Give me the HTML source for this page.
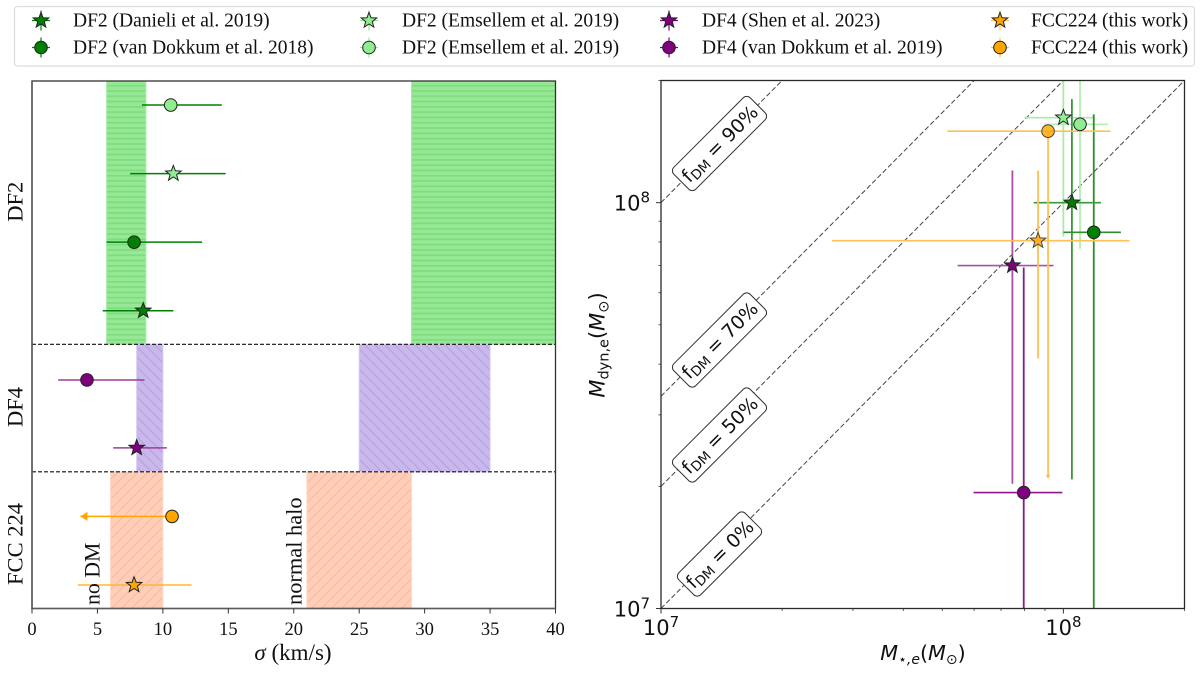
<!DOCTYPE html>
<html lang="en">
<head>
<meta charset="utf-8">
<title>Velocity dispersion and dynamical mass comparison</title>
<style>
html,body{margin:0;padding:0;background:#fff;width:1200px;height:673px;overflow:hidden}
svg{display:block}
.serif{font-family:"Liberation Serif",serif;fill:#111}
.sans{font-family:"DejaVu Sans",sans-serif;fill:#111}
</style>
</head>
<body>
<svg id="chart" xmlns="http://www.w3.org/2000/svg" width="1200" height="673" viewBox="0 0 1200 673">
<defs>
<clipPath id="clip-left"><rect x="32" y="81" width="523.5" height="527.5"/></clipPath>
<clipPath id="clip-right"><rect x="661" y="80.5" width="523.5" height="528"/></clipPath>
<pattern id="hatch-green" patternUnits="userSpaceOnUse" width="8" height="5.3"><rect width="8" height="5.3" fill="#95e995"/><rect y="0" width="8" height="1.7" fill="#80da80"/></pattern>
<pattern id="hatch-purple" patternUnits="userSpaceOnUse" width="10" height="10"><rect width="10" height="10" fill="#c9b8ea"/><path d="M-1 -1L11 11M-1 9L1 11M9 -1L11 1" stroke="#b7a0e0" stroke-width="1.1"/></pattern>
<pattern id="hatch-orange" patternUnits="userSpaceOnUse" width="10" height="10"><rect width="10" height="10" fill="#ffcdb8"/><path d="M-1 11L11 -1M-1 1L1 -1M9 11L11 9" stroke="#f9bba0" stroke-width="1.1"/></pattern>
</defs>
<g id="legend"></g>
<g id="left-panel"></g>
<g id="right-panel"></g>
</svg>
<script>
// ---------- Left panel data ----------
const sigmaBandNames = ['df2-no-dm-band','df2-halo-band','df4-no-dm-band','df4-halo-band','fcc224-no-dm-band','fcc224-halo-band'];
const sigmaBandLow = [5.7, 29, 8, 25, 6, 21];
const sigmaBandHigh = [8.7, 40, 10, 35, 10, 29];
const sigmaBandRowTop = [7.35, 7.35, 3.51, 3.51, 1.65, 1.65];
const sigmaBandRowBottom = [3.51, 3.51, 1.65, 1.65, -0.33, -0.33];
const sigmaBandHatch = ['green','green','purple','purple','orange','orange'];
const separatorRows = [3.51, 1.65];
const sigmaTicks = [0, 5, 10, 15, 20, 25, 30, 35, 40];

const seriesNames = ['df2-emsellem-circle','df2-emsellem-star','df2-van-dokkum','df2-danieli','df4-van-dokkum','df4-shen','fcc224-circle','fcc224-star'];
const seriesMarker = ['circle','star','circle','star','circle','star','circle','star'];
const seriesRows = [7, 6, 5, 4, 2.99, 2, 1, 0];
const sigmaValues = [10.6, 10.8, 7.8, 8.5, 4.2, 8.0, 10.7, 7.8];
const sigmaLow = [8.4, 7.5, 5.7, 5.4, 2.0, 6.2, 3.7, 3.5];
const sigmaHigh = [14.5, 14.8, 13.0, 10.8, 8.6, 10.3, 10.7, 12.2];
const sigmaIsUpperLimit = [false, false, false, false, false, false, true, false];
const sigmaLineColor = ['#008000','#008000','#008000','#008000','#9c3c9c','#9c3c9c','#ffa500','#ffb733'];
const markerFill = ['#90ee90','#90ee90','#008000','#008000','#800080','#800080','#ffa500','#ffa500'];

// ---------- Right panel data ----------
const stellarMass = [1.10e8, 1.00e8, 1.19e8, 1.05e8, 7.97e7, 7.47e7, 9.16e7, 8.65e7];
const stellarMassLow = [8.97e7, 8.0e7, 1.0e8, 8.44e7, 5.98e7, 5.46e7, 5.15e7, 2.66e7];
const stellarMassHigh = [1.29e8, 1.19e8, 1.39e8, 1.24e8, 9.94e7, 9.45e7, 1.31e8, 1.46e8];
const dynMass = [1.56e8, 1.62e8, 8.45e7, 1.0e8, 1.93e7, 7.0e7, 1.5e8, 8.06e7];
const dynMassLow = [7.7e7, 8.25e7, 9.5e6, 2.08e7, 9.5e6, 2.03e7, 2.1e7, 4.13e7];
const dynMassHigh = [2.1e8, 2.1e8, 1.65e8, 1.8e8, 6.92e7, 1.2e8, 1.5e8, 1.2e8];
const dynIsUpperLimit = [false, false, false, false, false, false, true, false];
const massLineColor = ['#b0f0b0','#a8eca8','#2a8f2a','#3a973a','#8a1a8a','#a650a6','#ffc055','#ffc055'];
const massMarkerOpacity = [1, 1, 1, 1, 1, 1, 0.8, 0.8];
const darkMatterFractions = [0, 0.5, 0.7, 0.9];
const fractionLabels = ['0%', '50%', '70%', '90%'];
const massMajorTicks = [1e7, 1e8];
const massMinorTicks = [2e7, 3e7, 4e7, 5e7, 6e7, 7e7, 8e7, 9e7, 2e8];

// ---------- Legend data ----------
const legendNames = ['DF2 (Danieli et al. 2019)','DF2 (van Dokkum et al. 2018)','DF2 (Emsellem et al. 2019)','DF2 (Emsellem et al. 2019)','DF4 (Shen et al. 2023)','DF4 (van Dokkum et al. 2019)','FCC224 (this work)','FCC224 (this work)'];
const legendMarker = ['star','circle','star','circle','star','circle','star','circle'];
const legendFill = ['#008000','#008000','#90ee90','#90ee90','#800080','#800080','#ffa500','#ffa500'];
const legendBar = ['#008000','#008000','#90ee90','#90ee90','#800080','#800080','#ffc055','#ffc055'];

// ---------- Axis functions ----------
const L = {x0: 32, x1: 555.5, y0: 608.5, y1: 81};
const R = {x0: 661, x1: 1184.5, y0: 608.5, y1: 80.5};
const xSigma = v => L.x0 + (v / 40) * (L.x1 - L.x0);
const yRow = r => 585 - r * 68.57;
const logMin = 7, logMax = Math.log10(2e8);
const xMass = v => R.x0 + (Math.log10(v) - logMin) / (logMax - logMin) * (R.x1 - R.x0);
const yMass = v => R.y0 - (Math.log10(v) - logMin) / (logMax - logMin) * (R.y0 - R.y1);

const NS = 'http://www.w3.org/2000/svg';
function add(parent, tag, attrs, text) {
  const el = document.createElementNS(NS, tag);
  for (const k in attrs) el.setAttribute(k, attrs[k]);
  if (text !== undefined) el.textContent = text;
  parent.appendChild(el);
  return el;
}
function starPoints(cx, cy, r) {
  const pts = [];
  for (let i = 0; i < 10; i++) {
    const rad = i % 2 ? r * 0.42 : r;
    const a = -Math.PI / 2 + i * Math.PI / 5;
    pts.push((cx + rad * Math.cos(a)).toFixed(2) + ',' + (cy + rad * Math.sin(a)).toFixed(2));
  }
  return pts.join(' ');
}
function marker(parent, kind, cx, cy, fill, opacity) {
  const edge = opacity < 1 ? '#444' : '#222';
  if (kind === 'star') return add(parent, 'polygon', {points: starPoints(cx, cy, 8.2), fill: fill, stroke: edge, 'stroke-width': 1, 'fill-opacity': opacity});
  return add(parent, 'circle', {cx: cx, cy: cy, r: 6.3, fill: fill, stroke: edge, 'stroke-width': 1, 'fill-opacity': opacity});
}

// ---------- Legend ----------
const legendG = document.getElementById('legend');
const legendBox = add(legendG, 'rect', {x: 14.5, y: 6.5, width: 1180, height: 59.5, rx: 3, fill: '#fff', stroke: '#dcdcdc', 'stroke-width': 1.2});


const legendMarkerX = [41, 369, 669, 1000];
const legendRowY = [20.5, 47.5];
const legendTextX = [73, 402, 702, 1031];
legendNames.forEach((name, i) => {
  const col = Math.floor(i / 2), row = i % 2;
  const g = add(legendG, 'g', {});
  
  
  const mx = legendMarkerX[col], my = legendRowY[row];
  add(g, 'line', {x1: mx - 9, x2: mx + 9, y1: my, y2: my, stroke: legendBar[i], 'stroke-width': 1.2});
  add(g, 'line', {x1: mx, x2: mx, y1: my - 10, y2: my + 10, stroke: legendBar[i], 'stroke-width': 1.2});
  marker(g, legendMarker[i], mx, my, legendFill[i], 1);
  const t = add(g, 'text', {x: legendTextX[col], y: my + 6, class: 'serif', 'font-size': 19.5}, name);
  
  
});

// ---------- Left panel ----------
const left = document.getElementById('left-panel');
const leftClip = add(left, 'g', {'clip-path': 'url(#clip-left)'});
sigmaBandNames.forEach((name, i) => {
  const x = xSigma(sigmaBandLow[i]), w = xSigma(sigmaBandHigh[i]) - x;
  const top = i < 2 ? L.y1 : yRow(sigmaBandRowTop[i]);
  const bot = i > 3 ? L.y0 : yRow(sigmaBandRowBottom[i]);
  const edge = {green: '#a4eca4', purple: '#d5c8f0', orange: '#ffd8c8'}[sigmaBandHatch[i]];
  const r = add(leftClip, 'rect', {x: x, y: top, width: w, height: bot - top, fill: 'url(#hatch-' + sigmaBandHatch[i] + ')', stroke: edge, 'stroke-width': 1});
  
  
});
separatorRows.forEach(row => {
  const l = add(left, 'line', {x1: L.x0, x2: L.x1, y1: yRow(row), y2: yRow(row), stroke: '#111', 'stroke-width': 1.1, 'stroke-dasharray': '4 2'});
  
  
});
seriesNames.forEach((name, i) => {
  const g = add(leftClip, 'g', {});
  
  
  const y = yRow(seriesRows[i]);
  add(g, 'line', {x1: xSigma(sigmaLow[i]), x2: xSigma(sigmaHigh[i]), y1: y, y2: y, stroke: sigmaLineColor[i], 'stroke-width': 1.5});
  if (sigmaIsUpperLimit[i]) {
    const tip = xSigma(sigmaLow[i]);
    add(g, 'polygon', {points: [tip, y, tip + 7, y - 4.5, tip + 7, y + 4.5].join(' '), fill: sigmaLineColor[i]});
  }
  marker(g, seriesMarker[i], xSigma(sigmaValues[i]), y, markerFill[i], 1);
});
const leftFrame = add(left, 'rect', {x: L.x0, y: L.y1, width: L.x1 - L.x0, height: L.y0 - L.y1, fill: 'none', stroke: '#333', 'stroke-width': 1.3});


const leftSpine = add(left, 'path', {d: 'M' + L.x0 + ' ' + L.y1 + 'V' + L.y0 + 'H' + L.x1, fill: 'none', stroke: '#5c5c5c', 'stroke-width': 1.6});


sigmaTicks.forEach(v => {
  const x = xSigma(v);
  add(left, 'line', {x1: x, x2: x, y1: L.y0, y2: L.y0 + 5, stroke: '#333', 'stroke-width': 1});
  const t = add(left, 'text', {x: x, y: 635, 'text-anchor': 'middle', class: 'serif', 'font-size': 18.5}, String(v));
  
  
});
const sigmaTitle = add(left, 'text', {x: 293, y: 660, 'text-anchor': 'middle', class: 'serif', 'font-size': 23});


add(sigmaTitle, 'tspan', {'font-style': 'italic'}, 'σ');
add(sigmaTitle, 'tspan', {}, ' (km/s)');

const rowTitles = ['DF2', 'DF4', 'FCC 224'];
const rowTitleY = [201.7, 407, 544];
rowTitles.forEach((s, i) => {
  const t = add(left, 'text', {x: 0, y: 0, transform: 'translate(22.5,' + rowTitleY[i] + ') rotate(-90)', 'text-anchor': 'middle', class: 'serif', 'font-size': 22.5}, s);
  
  
});
const noDm = add(left, 'text', {transform: 'translate(99.5,605) rotate(-90)', class: 'serif', 'font-size': 21.8}, 'no DM');


const normalHalo = add(left, 'text', {transform: 'translate(301.5,605) rotate(-90)', class: 'serif', 'font-size': 22.4}, 'normal halo');



// ---------- Right panel ----------
const right = document.getElementById('right-panel');
const rightClip = add(right, 'g', {'clip-path': 'url(#clip-right)'});
darkMatterFractions.forEach(f => {
  const a = 1e7, b = 2e8;
  const yEnd = Math.min(b / (1 - f), 2.05e8);
  const l = add(rightClip, 'line', {x1: xMass(a), y1: yMass(a / (1 - f)), x2: xMass(yEnd * (1 - f)), y2: yMass(yEnd), stroke: '#444', 'stroke-width': 1, 'stroke-dasharray': '5 2.5'});
  
  
});
seriesNames.forEach((name, i) => {
  const g = add(rightClip, 'g', {});
  
  
  const x = xMass(stellarMass[i]), y = yMass(dynMass[i]);
  add(g, 'line', {x1: xMass(stellarMassLow[i]), x2: xMass(stellarMassHigh[i]), y1: y, y2: y, stroke: massLineColor[i], 'stroke-width': 1.6});
  add(g, 'line', {x1: x, x2: x, y1: yMass(dynMassLow[i]), y2: yMass(dynMassHigh[i]), stroke: massLineColor[i], 'stroke-width': 1.8});
  if (dynIsUpperLimit[i]) {
    const tip = yMass(dynMassLow[i]);
    add(g, 'polygon', {points: [x - 2.5, tip - 3, x + 2.5, tip - 3, x, tip + 1].join(' '), fill: massLineColor[i]});
  }
});
seriesNames.forEach((name, i) => {
  const m = marker(rightClip, seriesMarker[i], xMass(stellarMass[i]), yMass(dynMass[i]), markerFill[i], massMarkerOpacity[i]);
  
  
});
const labelY = [554, 435, 340, 143.5];
const labelW = [94, 108, 108, 108];
darkMatterFractions.forEach((f, i) => {
  const g = add(right, 'g', {transform: 'translate(719.5,' + labelY[i] + ') rotate(-45)'});
  
  
  add(g, 'rect', {x: -labelW[i] / 2, y: -15.5, width: labelW[i], height: 31, rx: 5, fill: '#fff', stroke: '#333', 'stroke-width': 1});
  const t = add(g, 'text', {x: 0, y: 7, 'text-anchor': 'middle', class: 'sans', 'font-size': 19});
  add(t, 'tspan', {}, 'f');
  add(t, 'tspan', {dy: 3, 'font-size': 13.5}, 'DM');
  add(t, 'tspan', {dy: -3}, ' = ' + fractionLabels[i]);
});
const rightFrame = add(right, 'rect', {x: R.x0, y: R.y1, width: R.x1 - R.x0, height: R.y0 - R.y1, fill: 'none', stroke: '#2a2a2a', 'stroke-width': 1.3});


massMinorTicks.forEach(v => {
  add(right, 'line', {x1: xMass(v), x2: xMass(v), y1: R.y0, y2: R.y0 + 2.5, stroke: '#333', 'stroke-width': 0.8});
  add(right, 'line', {x1: R.x0, x2: R.x0 - 2.5, y1: yMass(v), y2: yMass(v), stroke: '#333', 'stroke-width': 0.8});
});
massMajorTicks.forEach(v => {
  const exp = Math.round(Math.log10(v));
  add(right, 'line', {x1: xMass(v), x2: xMass(v), y1: R.y0, y2: R.y0 + 5, stroke: '#333', 'stroke-width': 1});
  add(right, 'line', {x1: R.x0, x2: R.x0 - 5, y1: yMass(v), y2: yMass(v), stroke: '#333', 'stroke-width': 1});
  const tx = add(right, 'text', {x: xMass(v), y: 635, 'text-anchor': 'middle', class: 'sans', 'font-size': 21});
  
  
  add(tx, 'tspan', {}, '10');
  add(tx, 'tspan', {dy: -8, 'font-size': 15}, String(exp));
  const ty = add(right, 'text', {x: 650, y: yMass(v) + 8, 'text-anchor': 'end', class: 'sans', 'font-size': 21});
  
  
  add(ty, 'tspan', {}, '10');
  add(ty, 'tspan', {dy: -8, 'font-size': 15}, String(exp));
});
const xTitle = add(right, 'text', {x: 923, y: 660, 'text-anchor': 'middle', class: 'sans', 'font-size': 20.7});


add(xTitle, 'tspan', {'font-style': 'italic'}, 'M');
add(xTitle, 'tspan', {dy: 4, 'font-size': 14, 'font-style': 'italic'}, '⋆,e');
add(xTitle, 'tspan', {dy: -4}, '(');
add(xTitle, 'tspan', {'font-style': 'italic'}, 'M');
add(xTitle, 'tspan', {dy: 4, 'font-size': 14}, '⊙');
add(xTitle, 'tspan', {dy: -4}, ')');
const yTitle = add(right, 'text', {transform: 'translate(604.5,345) rotate(-90)', 'text-anchor': 'middle', class: 'sans', 'font-size': 21});


add(yTitle, 'tspan', {'font-style': 'italic'}, 'M');
add(yTitle, 'tspan', {dy: 4, 'font-size': 14.5}, 'dyn,e');
add(yTitle, 'tspan', {dy: -4}, '(');
add(yTitle, 'tspan', {'font-style': 'italic'}, 'M');
add(yTitle, 'tspan', {dy: 4, 'font-size': 14.5}, '⊙');
add(yTitle, 'tspan', {dy: -4}, ')');
</script>
</body>
</html>
